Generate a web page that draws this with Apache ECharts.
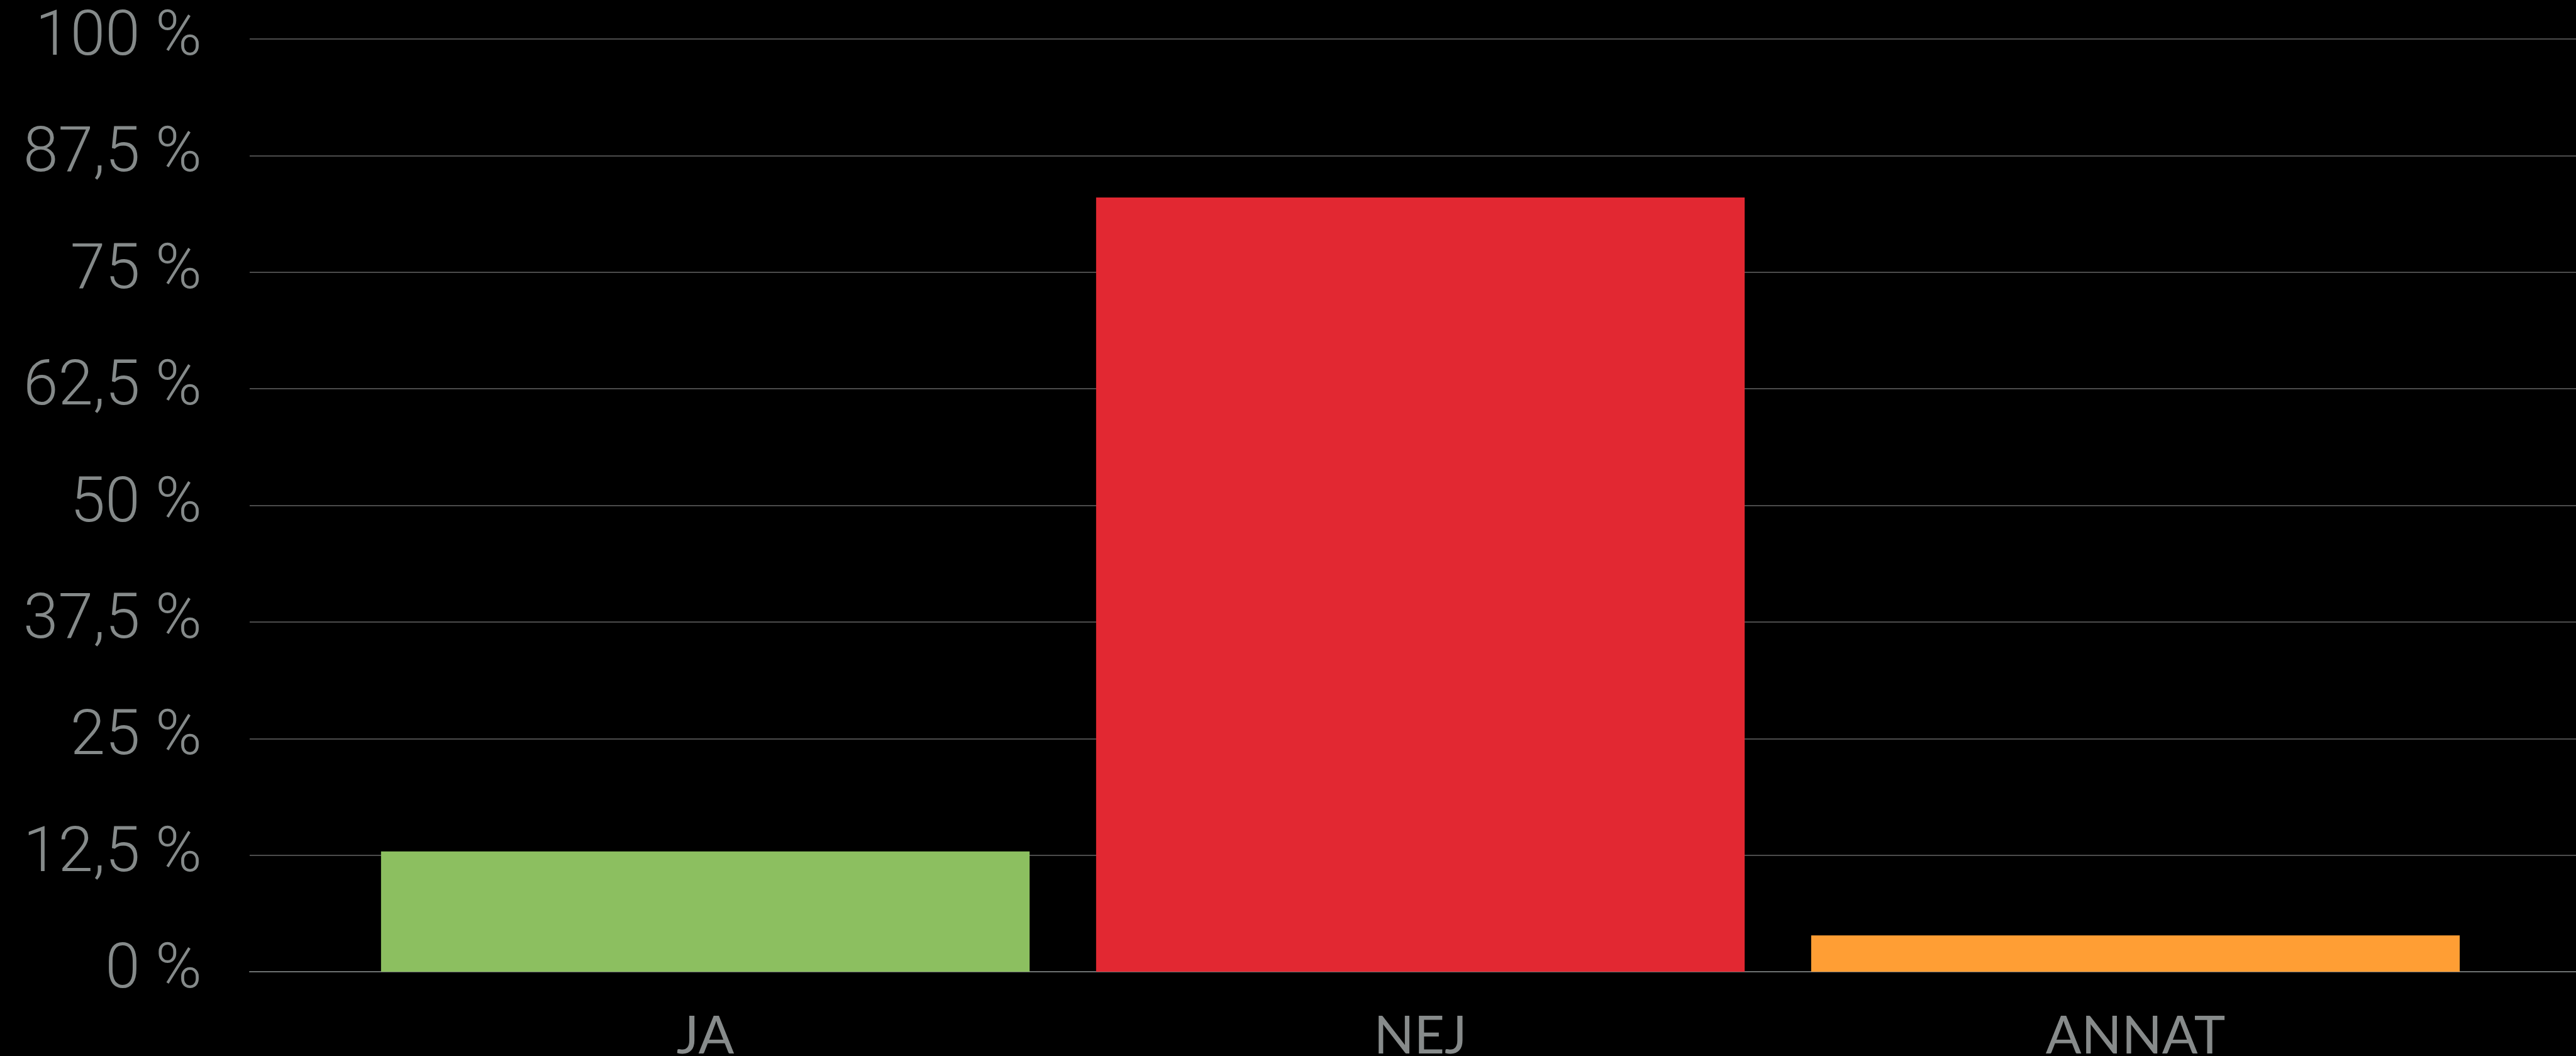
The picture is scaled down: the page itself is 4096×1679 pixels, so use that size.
<!DOCTYPE html>
<html>
<head>
<meta charset="utf-8">
<style>
  html, body { margin: 0; padding: 0; background: #000; }
  #chart { width: 4096px; height: 1679px; }
</style>
<script src="https://cdn.jsdelivr.net/npm/echarts@6/dist/echarts.min.js"></script>
</head>
<body>
<div id="chart"></div>
<script>
// kategorier och andelar (procent)
const categories = ['JA', 'NEJ', 'ANNAT']
const values = [12.9, 83.0, 3.9]
const barColors = ['#8cbf60', '#e22832', '#ff9e34']

const yMin = 0
const yMax = 100
const yStep = 12.5

const chart = echarts.init(document.getElementById('chart'))

// 12.5 -> "12,5 %"
const fmtPercent = (v) => String(v).replace('.', ',') + ' %'

const option = {
  backgroundColor: '#000',
  animation: false,
  grid: [
    // bakgrundsrutnät över hela bredden
    { left: 397, right: 0, top: 62, bottom: 134, outerBoundsMode: 'none' },
    // staplarna
    { left: 553, right: 132, top: 62, bottom: 134, outerBoundsMode: 'none' }
  ],
  xAxis: [
    {
      gridIndex: 0,
      type: 'category',
      data: [''],
      axisLine: { show: true, lineStyle: { color: '#6e7272', width: 2 } },
      axisTick: { show: false },
      axisLabel: { show: false },
      splitLine: { show: false }
    },
    {
      gridIndex: 1,
      type: 'category',
      data: categories,
      axisLine: { show: false },
      axisTick: { show: false },
      axisLabel: {
        color: '#878b8b',
        fontFamily: 'Lato',
        fontSize: 84,
        margin: 61
      }
    }
  ],
  yAxis: [
    {
      gridIndex: 0,
      type: 'value',
      min: yMin,
      max: yMax,
      interval: yStep,
      axisLine: { show: false },
      axisTick: { show: false },
      axisLabel: {
        color: '#858a8a',
        fontFamily: 'Roboto',
        fontWeight: 300,
        fontSize: 100,
        margin: 76,
        formatter: fmtPercent
      },
      splitLine: { lineStyle: { color: '#4c4c4c', width: 2 } }
    },
    {
      gridIndex: 1,
      type: 'value',
      min: yMin,
      max: yMax,
      interval: yStep,
      axisLine: { show: false },
      axisTick: { show: false },
      axisLabel: { show: false },
      splitLine: { show: false }
    }
  ],
  series: [
    {
      type: 'bar',
      xAxisIndex: 1,
      yAxisIndex: 1,
      barCategoryGap: '9.3%',
      data: values.map((v, i) => ({ value: v, itemStyle: { color: barColors[i] } }))
    }
  ]
}

chart.setOption(option)
</script>
</body>
</html>
